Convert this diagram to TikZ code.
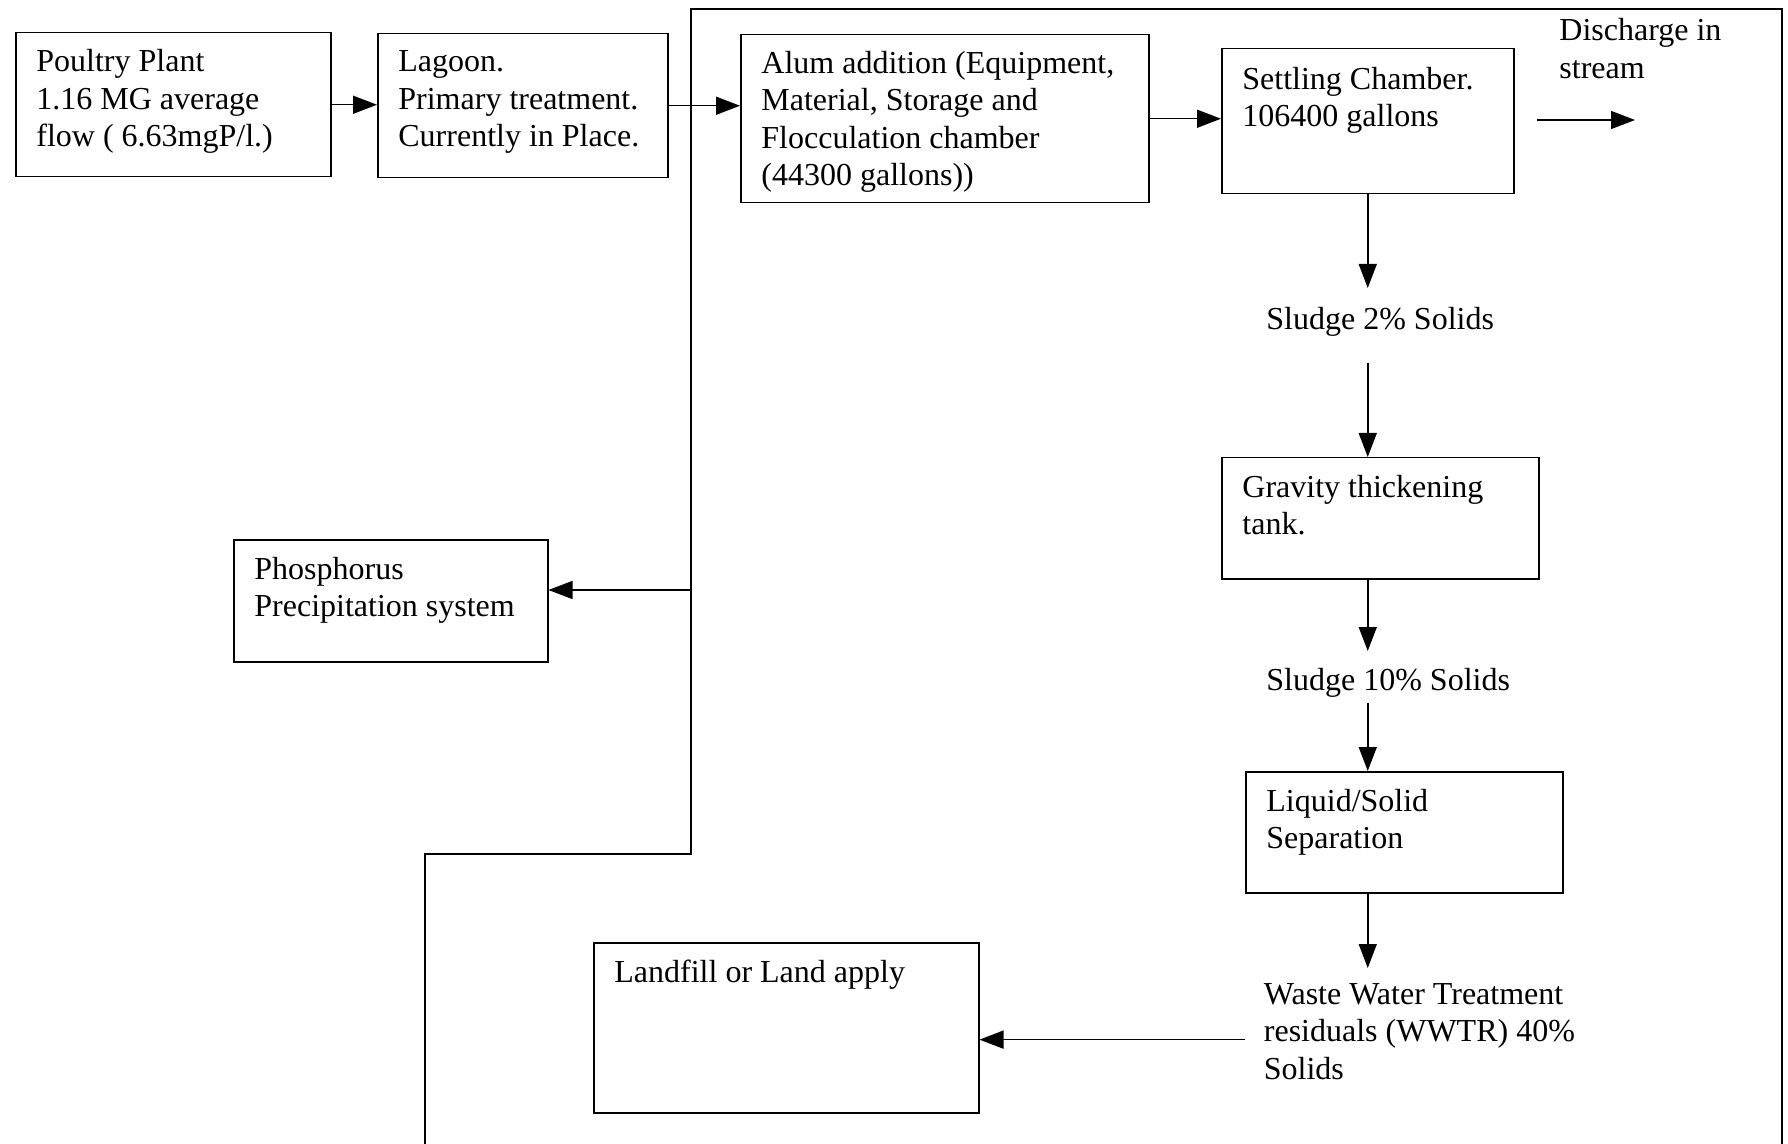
\documentclass[tikz,border=0pt]{standalone}
\usepackage{fontspec}
\setmainfont{Liberation Serif}
\usetikzlibrary{arrows.meta,calc}
\tikzset{
  stage/.style={draw, line width=0.75pt, anchor=north west, inner sep=0pt},
  txt/.style={anchor=north west, inner sep=0pt, align=left, font=\fontsize{16}{18.8}\selectfont},
  flow/.style={line width=0.75pt, -{Triangle[length=12pt,width=9pt]}}
}
\begin{document}
\begin{tikzpicture}[x=0.5pt, y=-0.5pt]
    \useasboundingbox (0,0) rectangle (1788,1144);
    \node[stage, minimum width=157.5pt, minimum height=72pt] (pp) at (15,32) {};
    \node[stage, minimum width=145pt, minimum height=72pt] (lagoon) at (377,33) {};
    \node[stage, minimum width=204pt, minimum height=84pt] (alum) at (740,34) {};
    \node[stage, minimum width=146pt, minimum height=72.5pt] (settle) at (1221,48) {};
    \node[stage, minimum width=158.5pt, minimum height=60.5pt] (thick) at (1221,457) {};
    \node[stage, minimum width=158.5pt, minimum height=60.5pt] (sep) at (1245,771) {};
    \node[stage, minimum width=192.5pt, minimum height=85pt] (land) at (593,942) {};
    \node[stage, minimum width=157pt, minimum height=61pt] (phos) at (233,539) {};

    \node[txt] (pp text) at ([shift={(10.5pt,-8.6pt)}]pp.north west)
        {Poultry Plant\\1.16 MG average\\flow ( 6.63mgP/l.)};
    \node[txt] (lagoon text) at ([shift={(10.5pt,-8.6pt)}]lagoon.north west)
        {Lagoon.\\Primary treatment.\\Currently in Place.};
    \node[txt] (alum text) at ([shift={(10.5pt,-8.2pt)}]alum.north west)
        {Alum addition (Equipment,\\Material, Storage and\\Flocculation chamber\\(44300 gallons))};
    \node[txt] (settle text) at ([shift={(10.5pt,-9.4pt)}]settle.north west)
        {Settling Chamber.\\106400 gallons};
    \node[txt] (thick text) at ([shift={(10.5pt,-8.8pt)}]thick.north west)
        {Gravity thickening\\tank.};
    \node[txt] (sep text) at ([shift={(10.5pt,-8.8pt)}]sep.north west)
        {Liquid/Solid\\Separation};
    \node[txt] (land text) at ([shift={(10.5pt,-8.8pt)}]land.north west)
        {Landfill or Land apply};
    \node[txt] (phos text) at ([shift={(10.5pt,-8.8pt)}]phos.north west)
        {Phosphorus\\Precipitation system};

    \node[txt] (dis) at (1559,18) {Discharge in\\stream};
    \node[txt] (sl2) at (1266,307) {Sludge 2\% Solids};
    \node[txt] (sl10) at (1266,668) {Sludge 10\% Solids};
    \node[txt] (wwtr) at (1263.5,983) {Waste Water Treatment\\residuals (WWTR) 40\%\\Solids};

    \draw[line width=0.75pt] (425,1144) -- (425,854) -- (691,854) -- (691,9) -- (1782,9) -- (1782,1144);
    \coordinate (tap) at (691,590);
    \coordinate (out a) at (1537,120);
    \coordinate (out b) at (1635,120);

    \draw[flow] (pp.east) -- (pp.east -| lagoon.west);
    \draw[flow] (lagoon.east) -- (lagoon.east -| alum.west);
    \draw[flow] (alum.east) -- (alum.east -| settle.west);
    \draw[flow] (out a) -- (out b);
    \draw[flow, shorten >=9.5pt] (settle.south) -- (settle.south |- sl2.north);
    \draw[flow, shorten <=13pt] (sl2.south -| settle.south) -- (thick.north -| settle.south);
    \draw[flow, shorten >=8.5pt] (thick.south -| settle.south) -- (sl10.north -| settle.south);
    \draw[flow, shorten <=2.5pt] (sl10.south -| settle.south) -- (sep.north -| settle.south);
    \draw[flow, shorten >=7.5pt] (sep.south -| settle.south) -- (wwtr.north -| settle.south);
    \draw[flow, shorten <=9.5pt] ([yshift=-4pt]wwtr.west) -- ([yshift=-4pt]wwtr.west -| land.east);
    \draw[flow] (tap) -- (tap -| phos.east);
\end{tikzpicture}
\end{document}
